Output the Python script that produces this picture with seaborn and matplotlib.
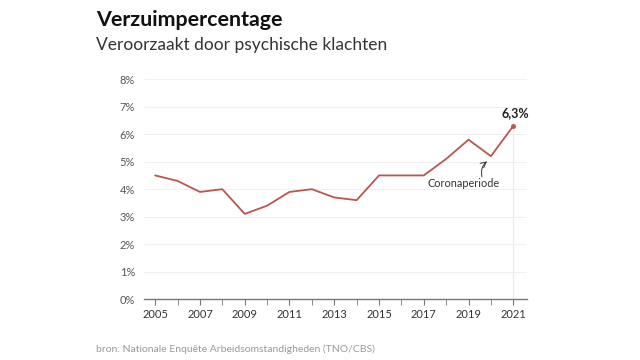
import numpy as np
import pandas as pd
import seaborn as sb
import matplotlib.pyplot as plt

years = list(range(2005, 2022))
verzuim = [4.5, 4.3, 3.9, 4.0, 3.1, 3.4, 3.9, 4.0, 3.7, 3.6, 4.5, 4.5, 4.5, 5.1, 5.8, 5.2, 6.3]
yticks = [0, 1, 2, 3, 4, 5, 6, 7, 8]
xticklabels = [str(y) for y in range(2005, 2022, 2)]

sb.set_style("white")
plt.rcParams["font.family"] = ["Lato", "DejaVu Sans"]

df = pd.DataFrame({"jaar": years, "verzuim": verzuim})

fig = plt.figure(figsize=(6.4, 3.6), dpi=100)
ax = fig.add_axes([0.225, 0.169, 0.598, 0.611])

# faint grid
for y in yticks[1:]:
    ax.axhline(y, color="#f0f0f0", lw=0.8, zorder=0)
ax.axvline(2021, ymax=6.3 / 8, color="#f6e6e6", lw=0.9, zorder=0)

sb.lineplot(data=df, x="jaar", y="verzuim", ax=ax, color="#b8564f", lw=1.3)
ax.plot([2021], [6.3], "o", color="#b8564f", ms=2.5)

ax.set_xlim(2004.5, 2021.6)
ax.set_ylim(0, 8)
ax.set_yticks(yticks)
ax.set_yticklabels([f"{v}%" for v in yticks])
ax.set_xticks(years, minor=True)
ax.set_xticks(list(range(2005, 2022, 2)))
ax.set_xticklabels(xticklabels)
ax.set_xlabel("")
ax.set_ylabel("")
for s in ["top", "right", "left"]:
    ax.spines[s].set_visible(False)
ax.spines["bottom"].set_color("#777777")
ax.spines["bottom"].set_linewidth(1.0)
ax.tick_params(axis="x", which="both", bottom=True, length=4, color="#777777",
               labelsize=8, labelcolor="#333333", pad=3)
ax.tick_params(axis="y", left=False, labelsize=8, labelcolor="#555555", pad=3)

ax.annotate("6,3%", (2021, 6.3), xytext=(2021.1, 6.55), fontsize=9,
            fontweight="bold", color="#222222", ha="center", va="bottom")
ax.text(2018.8, 4.2, "Coronaperiode", fontsize=7.8, color="#333333",
        ha="center", va="center")
ax.annotate("", xy=(2019.93, 5.07), xytext=(2019.6, 4.45),
            arrowprops=dict(arrowstyle="->", color="#333333", lw=0.7,
                            connectionstyle="arc3,rad=-0.35",
                            shrinkA=0, shrinkB=2))

fig.text(0.15, 0.945, "Verzuimpercentage", fontsize=15.4, fontweight="bold",
         color="#111111", va="center")
fig.text(0.15, 0.875, "Veroorzaakt door psychische klachten", fontsize=12.5,
         color="#333333", va="center")
fig.text(0.15, 0.03, "bron: Nationale Enquête Arbeidsomstandigheden (TNO/CBS)",
         fontsize=7.5, color="#999999", va="center")

plt.savefig("out.png", dpi=100)
